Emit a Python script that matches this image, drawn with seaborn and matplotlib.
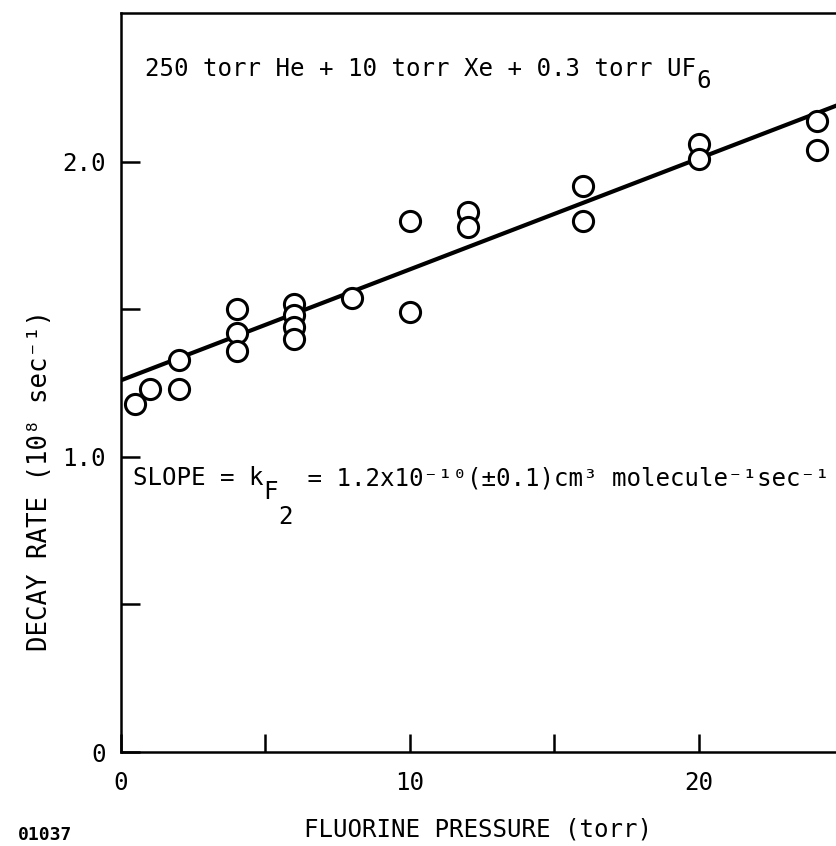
import numpy as np
import pandas as pd
import seaborn as sns
import matplotlib.pyplot as plt
from matplotlib.ticker import FixedLocator, FixedFormatter

# measured points (torr, 10^8 sec^-1)
pressure = [0.5, 1.0, 2.0, 2.0, 4.0, 4.0, 4.0, 6.0, 6.0, 6.0, 6.0, 8.0,
            10.0, 10.0, 12.0, 12.0, 16.0, 16.0, 20.0, 20.0, 24.1, 24.1]
decay = [1.18, 1.23, 1.33, 1.23, 1.50, 1.42, 1.36, 1.52, 1.48, 1.44, 1.40, 1.54,
         1.80, 1.49, 1.83, 1.78, 1.92, 1.80, 2.06, 2.01, 2.14, 2.04]

# fitted line
fit_x = [0.0, 25.0]
fit_y = [1.26, 2.20]

x_ticks = [0, 5, 10, 15, 20]
x_labels = ["0", "", "10", "", "20"]
y_ticks = [0, 0.5, 1.0, 1.5, 2.0]
y_labels = ["0", "", "1.0", "", "2.0"]

sns.set_style("white")
plt.rcParams['font.family'] = ['DejaVu Sans Mono', 'DejaVu Sans']
plt.rcParams['mathtext.default'] = 'regular'
for key in ['text.color', 'axes.labelcolor', 'xtick.color', 'ytick.color']:
    plt.rcParams[key] = 'black'
fs = 17.4

df = pd.DataFrame({"pressure": pressure, "decay": decay})

fig = plt.figure(figsize=(8.36, 8.46), dpi=100)
ax = fig.add_axes([121 / 836, 94 / 846, 715 / 836, 739 / 846])

sns.lineplot(x=fit_x, y=fit_y, color="black", linewidth=3, ax=ax, zorder=2)
sns.scatterplot(data=df, x="pressure", y="decay", marker="o", s=210,
                facecolor="white", edgecolor="black", linewidth=2.2, ax=ax, zorder=3)

ax.set_xlim(0, 24.75)
ax.set_ylim(0, 2.505)

ax.xaxis.set_major_locator(FixedLocator(x_ticks))
ax.xaxis.set_major_formatter(FixedFormatter(x_labels))
ax.yaxis.set_major_locator(FixedLocator(y_ticks))
ax.yaxis.set_major_formatter(FixedFormatter(y_labels))
ax.tick_params(axis="x", direction="in", length=13, width=1.8, pad=14, labelsize=fs,
               bottom=True, colors="black")
ax.tick_params(axis="y", direction="in", length=14, width=1.8, pad=11, labelsize=fs,
               left=True, colors="black")

for side in ["left", "bottom", "top"]:
    ax.spines[side].set_visible(True)
    ax.spines[side].set_color("black")
    ax.spines[side].set_linewidth(1.8)
ax.spines["right"].set_visible(False)

ax.set_xlabel("FLUORINE PRESSURE (torr)", fontsize=fs, color="black")
ax.xaxis.set_label_coords(0.5, -0.088)
ax.set_ylabel("DECAY RATE (10\u2078 sec\u207b\u00b9)", fontsize=18.5, color="black")
ax.yaxis.set_label_coords(-0.095, 0.368)

# gas mixture label, subscript as its own piece
t_mix = ax.text(0.83, 2.29, "250 torr He + 10 torr Xe + 0.3 torr UF", fontsize=fs,
                ha="left", va="baseline", color="black")
ax.annotate("6", xy=(1, 0), xycoords=t_mix, xytext=(0, -8), textcoords="offset points",
            fontsize=fs, ha="left", va="bottom", color="black")

# slope label with k_F_2 built from pieces
t_slope = ax.text(0.42, 0.905, "SLOPE = k", fontsize=fs, ha="left", va="baseline",
                  color="black")
t_f = ax.annotate("F", xy=(1, 0), xycoords=t_slope, xytext=(0, -10),
                  textcoords="offset points", fontsize=fs, ha="left", va="bottom",
                  color="black")
t_2 = ax.annotate("2", xy=(1, 0), xycoords=(t_f, t_slope), xytext=(0, -28),
                  textcoords="offset points", fontsize=fs, ha="left", va="bottom",
                  color="black")
ax.annotate(" = 1.2x10\u207b\u00b9\u2070(\u00b10.1)cm\u00b3 molecule\u207b\u00b9sec\u207b\u00b9",
            xy=(1, 0), xycoords=(t_2, t_slope), xytext=(0, 0),
            textcoords="offset points", fontsize=fs, ha="left", va="bottom",
            color="black")

fig.text(18 / 836, 1 - 840 / 846, "01037", fontsize=13, fontweight="bold",
         ha="left", va="baseline", color="black")

fig.savefig("out.png", dpi=100, facecolor="white")
